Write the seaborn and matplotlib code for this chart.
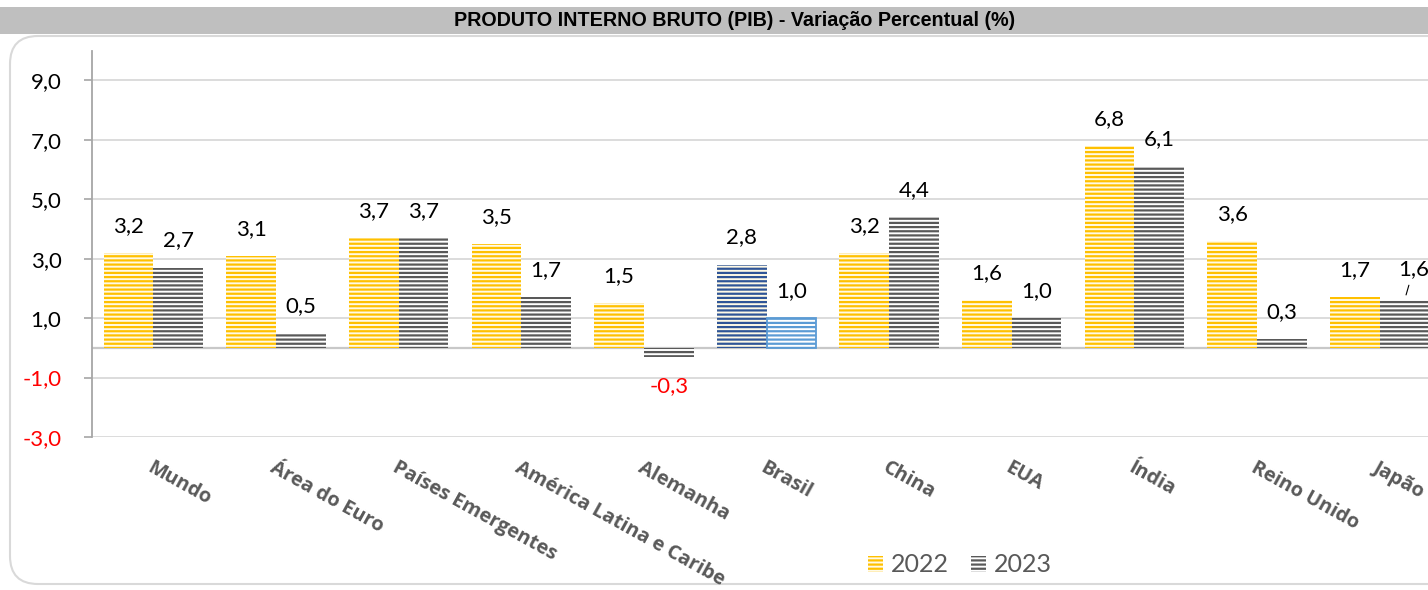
import numpy as np
import pandas as pd
import seaborn as sns
import matplotlib.pyplot as plt
from matplotlib.patches import FancyBboxPatch, Rectangle, Patch
from matplotlib.transforms import IdentityTransform

# PIB - variação percentual anual
categorias = ["Mundo", "Área do Euro", "Países Emergentes", "América Latina e Caribe",
              "Alemanha", "Brasil", "China", "EUA", "Índia", "Reino Unido", "Japão"]
pib_2022 = [3.2, 3.1, 3.7, 3.5, 1.5, 2.8, 3.2, 1.6, 6.8, 3.6, 1.7]
pib_2023 = [2.7, 0.5, 3.7, 1.7, -0.3, 1.0, 4.4, 1.0, 6.1, 0.3, 1.6]
anos = ["2022", "2023"]
ticks_y = [-3, -1, 1, 3, 5, 7, 9]
titulo = "PRODUTO INTERNO BRUTO (PIB) - Variação Percentual (%)"

sns.set_theme(style="white")
plt.rcParams["font.family"] = ["Lato", "DejaVu Sans"]
plt.rcParams["hatch.linewidth"] = 1.6

df = pd.DataFrame({
    "Região": categorias * 2,
    "Ano": [anos[0]] * len(categorias) + [anos[1]] * len(categorias),
    "PIB": pib_2022 + pib_2023,
})

W, H = 1428, 590
fig = plt.figure(figsize=(W / 100, H / 100), dpi=100)

# faixa do título
fig.patches.append(Rectangle((0, 1 - 34 / H), 1, 27 / H, transform=fig.transFigure,
                             facecolor="#BFBFBF", edgecolor="none", zorder=-2))
fig.text(735 / W, 1 - 21 / H, titulo, ha="center", va="center", fontsize=14.2,
         fontweight="bold", family=["Liberation Sans Narrow", "Liberation Sans", "DejaVu Sans"],
         color="black")

# moldura arredondada da área do gráfico
fig.patches.append(FancyBboxPatch((10, 6), 1500, H - 36 - 6,
                                  boxstyle="round,pad=0,rounding_size=28",
                                  transform=IdentityTransform(), facecolor="none",
                                  edgecolor="#D9D9D9", linewidth=1.5, zorder=-1))

ax = fig.add_axes([92 / W, 153 / H, 1349 / W, (437 - 50.5) / H])
ax.set_facecolor("none")

sns.barplot(data=df, x="Região", y="PIB", hue="Ano", width=0.81, saturation=1,
            palette=["#FFC000", "#595959"], legend=False, ax=ax, zorder=3)

estilos = {
    "2022": dict(stripe="#FFC000", face="#FFFAE6"),
    "2023": dict(stripe="#595959", face="#FFFFFF"),
}
for ano, cont in zip(anos, ax.containers):
    for cat, bar in zip(categorias, cont.patches):
        st = estilos[ano]
        stripe, face, lw = st["stripe"], st["face"], 0
        if cat == "Brasil":
            stripe = "#2F5597" if ano == "2022" else "#5B9BD5"
            lw = 0 if ano == "2022" else 1.3
        bar.set_facecolor(face)
        bar.set_edgecolor(stripe)
        bar.set_hatch("----")
        bar.set_linewidth(lw)
        bar.set_zorder(3)

# rótulos de dados
def fmt(v):
    return f"{v:.1f}".replace(".", ",")

for ano, cont, vals in zip(anos, ax.containers, [pib_2022, pib_2023]):
    for cat, bar, v in zip(categorias, cont.patches, vals):
        xc = bar.get_x() + bar.get_width() / 2
        cor = "#FF0000" if v < 0 else "black"
        if cat == "Japão" and ano == "2023":
            ax.annotate(fmt(v), (xc, v), xytext=(9, 31), textcoords="offset pixels",
                        ha="center", va="center", fontsize=16, color=cor, zorder=5,
                        arrowprops=dict(arrowstyle="-", color="black", lw=0.8,
                                        shrinkA=2, shrinkB=4))
        else:
            ax.annotate(fmt(v), (xc, v), xytext=(0, 27 if v >= 0 else -29),
                        textcoords="offset pixels", ha="center", va="center",
                        fontsize=16, color=cor, zorder=5)

ax.set_xlim(-0.5, len(categorias) - 0.5)
ax.set_ylim(-3, 10)
ax.set_yticks(ticks_y)
ax.set_yticklabels([fmt(t) for t in ticks_y], fontsize=16)
for lab, t in zip(ax.get_yticklabels(), ticks_y):
    lab.set_color("#FF0000" if t < 0 else "black")
ax.yaxis.grid(True, color="#D9D9D9", linewidth=1.3, zorder=0)
ax.set_axisbelow(True)
ax.axhline(0, color="#C8C8C8", linewidth=1.6, zorder=2)

ax.tick_params(axis="y", direction="out", length=6, width=1.2, color="#A6A6A6", pad=16, left=True)
ax.tick_params(axis="x", length=0, pad=15)
ax.set_xticks(range(len(categorias)))
ax.set_xticklabels(categorias, rotation=-29, ha="left", va="top", rotation_mode="anchor",
                   fontsize=14.3, fontweight="bold", fontstyle="normal", color="#595959",
                   family=["Open Sans", "DejaVu Sans"])
for s in ["top", "right", "bottom"]:
    ax.spines[s].set_visible(False)
ax.spines["left"].set_color("#A6A6A6")
ax.spines["left"].set_linewidth(1.3)
ax.set_xlabel("")
ax.set_ylabel("")

# legenda
handles = [Patch(facecolor=estilos[a]["face"], edgecolor=estilos[a]["stripe"], hatch="----",
                 linewidth=0, label=a) for a in anos]
fig.legend(handles=handles, loc="center", bbox_to_anchor=(960 / W, 1 - 565 / H), ncol=2,
           frameon=False, fontsize=18, labelcolor="#595959", handlelength=0.6,
           handleheight=0.6, handletextpad=0.3, columnspacing=0.9)

fig.savefig("out.png", dpi=100)
